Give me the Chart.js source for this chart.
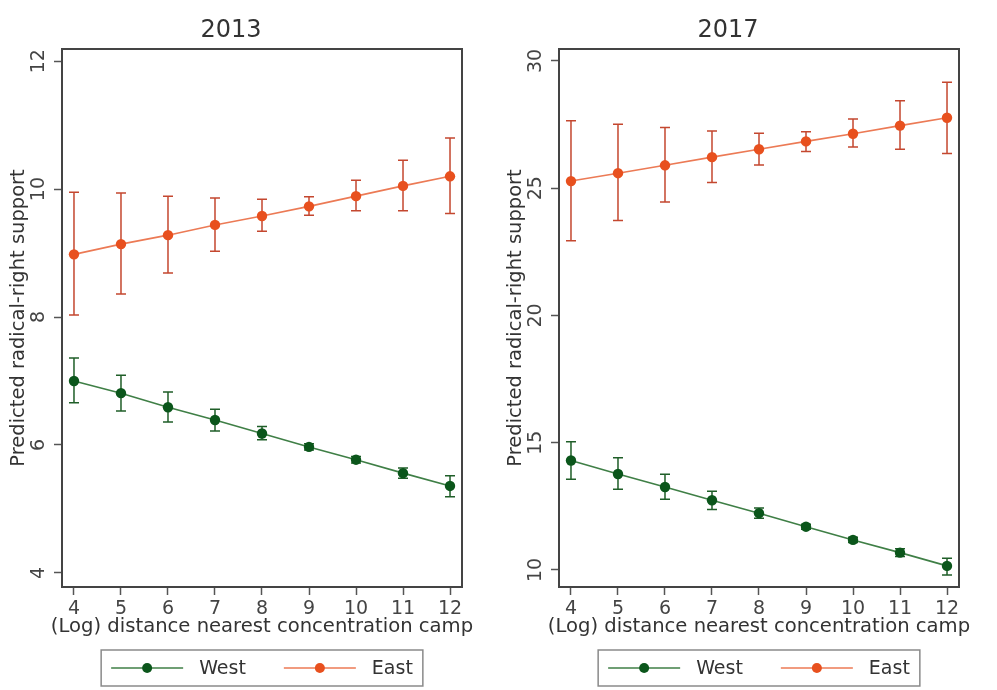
<!DOCTYPE html>
<html><head><meta charset="utf-8">
<script src="https://cdn.jsdelivr.net/npm/chart.js@4.4.1/dist/chart.umd.min.js"></script>
<style>
html,body{margin:0;padding:0;background:#fff;width:997px;height:690px;overflow:hidden}
.wrap{position:absolute;top:0;width:497px;height:690px}
</style></head><body>
<div class="wrap" style="left:0"><canvas id="c2013" width="497" height="690"></canvas></div>
<div class="wrap" style="left:497px"><canvas id="c2017" width="497" height="690"></canvas></div>
<script>
// ---- data ----
const distance = [4, 5, 6, 7, 8, 9, 10, 11, 12];
const xTicks = [4, 5, 6, 7, 8, 9, 10, 11, 12];
const seriesNames = ['West', 'East'];
const panelTitles = ['2013', '2017'];
const xTitle = '(Log) distance nearest concentration camp';
const yTitle = 'Predicted radical-right support';

const yTicks2013 = [4, 6, 8, 10, 12];
const west2013   = [7.00, 6.81, 6.59, 6.39, 6.18, 5.97, 5.77, 5.56, 5.36];
const west2013Lo = [6.66, 6.53, 6.36, 6.22, 6.08, 5.92, 5.72, 5.48, 5.19];
const west2013Hi = [7.36, 7.09, 6.83, 6.56, 6.29, 6.02, 5.82, 5.64, 5.52];
const east2013   = [8.98, 9.14, 9.28, 9.44, 9.58, 9.73, 9.89, 10.05, 10.20];
const east2013Lo = [8.03, 8.36, 8.69, 9.03, 9.34, 9.59, 9.66, 9.66, 9.62];
const east2013Hi = [9.95, 9.94, 9.89, 9.86, 9.84, 9.88, 10.14, 10.45, 10.80];

const yTicks2017 = [10, 15, 20, 25, 30];
const west2017   = [14.30, 13.77, 13.26, 12.74, 12.23, 11.70, 11.18, 10.68, 10.16];
const west2017Lo = [13.56, 13.17, 12.78, 12.38, 12.03, 11.60, 11.08, 10.53, 9.80];
const west2017Hi = [15.04, 14.41, 13.76, 13.09, 12.43, 11.80, 11.28, 10.83, 10.46];
const east2017   = [25.28, 25.59, 25.90, 26.22, 26.53, 26.84, 27.14, 27.46, 27.77];
const east2017Lo = [22.94, 23.73, 24.46, 25.22, 25.91, 26.44, 26.62, 26.53, 26.36];
const east2017Hi = [27.65, 27.51, 27.39, 27.25, 27.16, 27.22, 27.72, 28.44, 29.16];

// ---- styling ----
const FONT = "'DejaVu Sans', Verdana, sans-serif";
const WEST = { line: '#3f7f46', mark: '#0b561b', ci: '#1f5e28' };
const EAST = { line: '#ec7a55', mark: '#e8501e', ci: '#c4472f' };

const errorBars = {
  id: 'errorBars',
  beforeDatasetsDraw(chart) {
    const ctx = chart.ctx, xs = chart.scales.x, ys = chart.scales.y;
    ctx.save();
    chart.data.datasets.forEach(ds => {
      ctx.strokeStyle = ds.ciColor; ctx.lineWidth = 1.5;
      ds.data.forEach((p, i) => {
        const x = xs.getPixelForValue(p.x);
        const y1 = ys.getPixelForValue(ds.ciLow[i]);
        const y2 = ys.getPixelForValue(ds.ciHigh[i]);
        ctx.beginPath();
        ctx.moveTo(x, y1); ctx.lineTo(x, y2);
        ctx.moveTo(x - 5, y1); ctx.lineTo(x + 5, y1);
        ctx.moveTo(x - 5, y2); ctx.lineTo(x + 5, y2);
        ctx.stroke();
      });
    });
    ctx.restore();
  }
};

const frame = {
  id: 'frame',
  afterDraw(chart) {
    const {ctx, chartArea: a} = chart;
    ctx.save();
    ctx.strokeStyle = '#444'; ctx.lineWidth = 2;
    ctx.strokeRect(a.left, a.top, a.right - a.left, a.bottom - a.top);
    ctx.restore();
  }
};

// x-axis title drawn without the axis-width clamp (it is wider than the plot)
const xAxisTitle = {
  id: 'xAxisTitle',
  afterDraw(chart, args, o) {
    const {ctx, chartArea: a} = chart;
    ctx.save();
    ctx.font = o.size + 'px ' + FONT;
    ctx.fillStyle = '#333'; ctx.textAlign = 'center'; ctx.textBaseline = 'middle';
    ctx.fillText(o.text, (a.left + a.right) / 2, a.bottom + o.offsetY);
    ctx.restore();
  }
};

const stataLegend = {
  id: 'stataLegend',
  afterDraw(chart, args, o) {
    const ctx = chart.ctx, ca = chart.chartArea;
    ctx.save();
    ctx.font = o.fontSize + 'px ' + FONT;
    const items = chart.data.datasets.map(ds => ({
      label: ds.label, w: ctx.measureText(ds.label).width,
      line: ds.borderColor, mark: ds.pointBackgroundColor
    }));
    const total = items.reduce((s, it) => s + o.lineLen + o.textGap + it.w, 0)
      + o.itemGap * (items.length - 1) + 2 * o.padX;
    const left = (ca.left + ca.right) / 2 - total / 2;
    const top = ca.bottom + o.offsetY;
    ctx.strokeStyle = '#8a8a8a'; ctx.lineWidth = 1.5;
    ctx.strokeRect(left, top, total, o.height);
    let x = left + o.padX;
    const cy = top + o.height / 2;
    items.forEach(it => {
      ctx.strokeStyle = it.line; ctx.lineWidth = 1.5;
      ctx.beginPath(); ctx.moveTo(x, cy); ctx.lineTo(x + o.lineLen, cy); ctx.stroke();
      ctx.fillStyle = it.mark;
      ctx.beginPath(); ctx.arc(x + o.lineLen / 2, cy, 5, 0, Math.PI * 2); ctx.fill();
      x += o.lineLen + o.textGap;
      ctx.fillStyle = '#333'; ctx.textBaseline = 'middle'; ctx.textAlign = 'left';
      ctx.fillText(it.label, x, cy + 1);
      x += it.w + o.itemGap;
    });
    ctx.restore();
  }
};

function series(name, vals, lo, hi, c) {
  return {
    label: name,
    data: distance.map((d, i) => ({ x: d, y: vals[i] })),
    ciLow: lo, ciHigh: hi, ciColor: c.ci,
    borderColor: c.line, borderWidth: 1.6,
    pointBackgroundColor: c.mark, pointBorderWidth: 0,
    pointRadius: 5.2, pointStyle: 'circle', tension: 0, fill: false
  };
}

function makeChart(id, title, yMin, yMax, yTicks, w, wLo, wHi, e, eLo, eHi) {
  const tickFont = { family: FONT, size: 19 };
  return new Chart(document.getElementById(id), {
    type: 'line',
    data: { datasets: [series(seriesNames[0], w, wLo, wHi, WEST), series(seriesNames[1], e, eLo, eHi, EAST)] },
    options: {
      responsive: false, animation: false, devicePixelRatio: 1,
      layout: { padding: { left: 0, right: 35, top: 0, bottom: 51 } },
      plugins: {
        legend: { display: false },
        tooltip: { enabled: false },
        title: { display: true, text: title, color: '#333',
          font: { family: FONT, size: 24, weight: 'normal' }, padding: { top: 16, bottom: 4.2 } },
        xAxisTitle: { text: xTitle, size: 19.6, offsetY: 40 },
        stataLegend: { fontSize: 19, lineLen: 72, textGap: 16, itemGap: 38, padX: 10, offsetY: 63, height: 36 }
      },
      scales: {
        x: {
          type: 'linear', min: 3.745, max: 12.255,
          afterBuildTicks: s => { s.ticks = xTicks.map(v => ({ value: v })); },
          afterFit: s => { s.height = 52; },
          grid: { drawOnChartArea: false, drawTicks: true, tickLength: 8, color: '#555', tickWidth: 1.5 },
          border: { display: true, color: '#444', width: 2 },
          ticks: { font: tickFont, color: '#444', padding: 3, maxRotation: 0, autoSkip: false },
          title: { display: false }
        },
        y: {
          type: 'linear', min: yMin, max: yMax,
          afterBuildTicks: s => { s.ticks = yTicks.map(v => ({ value: v })); },
          afterFit: s => { s.width = 62; },
          grid: { drawOnChartArea: false, drawTicks: true, tickLength: 8, color: '#555', tickWidth: 1.5 },
          border: { display: true, color: '#444', width: 2 },
          ticks: { font: tickFont, color: '#444', padding: 3, minRotation: 90, maxRotation: 90, crossAlign: 'center', autoSkip: false },
          title: { display: true, text: yTitle, font: { family: FONT, size: 19.5 }, color: '#333', padding: { top: 7, bottom: 0 } }
        }
      }
    },
    plugins: [errorBars, frame, xAxisTitle, stataLegend]
  });
}

makeChart('c2013', panelTitles[0], 3.78, 12.19, yTicks2013, west2013, west2013Lo, west2013Hi, east2013, east2013Lo, east2013Hi);
makeChart('c2017', panelTitles[1], 9.33, 30.47, yTicks2017, west2017, west2017Lo, west2017Hi, east2017, east2017Lo, east2017Hi);
</script>
</body></html>
